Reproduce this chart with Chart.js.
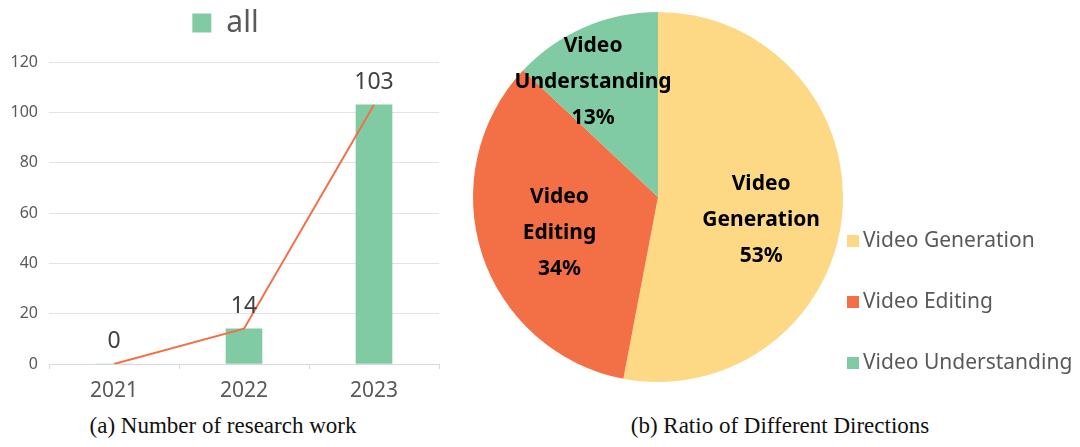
<!DOCTYPE html>
<html>
<head>
<meta charset="utf-8">
<script src="https://cdn.jsdelivr.net/npm/chart.js@4.4.1/dist/chart.umd.min.js"></script>
<style>
html, body { margin: 0; padding: 0; background: #fff; }
body { width: 1080px; height: 447px; position: relative; overflow: hidden; }
#barBox { position: absolute; left: 0; top: 0; width: 445px; height: 410px; }
#pieBox { position: absolute; left: 440px; top: 0; width: 640px; height: 394px; }
.caption { position: absolute; top: 413px; font-family: "Liberation Serif", "Times New Roman", serif; font-size: 23px; color: #111; text-align: center; white-space: nowrap; }
</style>
</head>
<body>
<div id="barBox"><canvas id="barChart"></canvas></div>
<div id="pieBox"><canvas id="pieChart"></canvas></div>
<div class="caption" style="left:0;width:446px;">(a) Number of research work</div>
<div class="caption" style="left:580px;width:400px;">(b) Ratio of Different Directions</div>

<script>
// ----------- data ----------------- //
const years = ["2021", "2022", "2023"];
const workCounts = [0, 14, 103];
const yTickMax = 120;
const yTickStep = 20;

const directions = ["Video Generation", "Video Editing", "Video Understanding"];
const directionShares = [53, 34, 13];

const green = "#80cba4";
const orange = "#f37046";
const pieColors = ["#fdd885", "#f37046", "#80cba4"];
const grayText = "#595959";

// ----------- Chart 1: number of research work ----------------- //

// value above each point of the line
const valueLabels = {
    id: "valueLabels",
    afterDatasetsDraw(chart) {
        const ctx = chart.ctx;
        const meta = chart.getDatasetMeta(1);
        ctx.save();
        ctx.font = "23px 'Noto Sans'";
        ctx.fillStyle = "#404040";
        ctx.textAlign = "center";
        ctx.textBaseline = "alphabetic";
        meta.data.forEach((pt, i) => {
            ctx.fillText(String(chart.data.datasets[1].data[i]), pt.x, pt.y - 16);
        });
        ctx.restore();
    }
};

new Chart(document.getElementById("barChart"), {
    data: {
        labels: years,
        datasets: [{
            type: "bar",
            label: "all",
            data: workCounts,
            xAxisID: "x",
            yAxisID: "y",
            backgroundColor: green,
            barThickness: 36,
            order: 2
        }, {
            type: "line",
            label: "trend",
            data: workCounts,
            xAxisID: "x",
            yAxisID: "y",
            borderColor: orange,
            borderWidth: 2,
            pointRadius: 0,
            tension: 0,
            order: 1
        }]
    },
    options: {
        responsive: true,
        maintainAspectRatio: false,
        animation: false,
        layout: { padding: { top: 0, left: 12, right: 6 } },
        plugins: {
            legend: {
                labels: {
                    filter: item => item.datasetIndex === 0,
                    boxWidth: 19,
                    boxHeight: 19,
                    color: grayText,
                    font: { family: "'Noto Sans'", size: 30 },
                    padding: 8
                }
            },
            tooltip: { enabled: false }
        },
        scales: {
            x: {
                offset: true,
                grid: { offset: true, drawOnChartArea: false, tickLength: 5, color: "#d9d9d9" },
                border: { color: "#d9d9d9" },
                ticks: { color: grayText, font: { family: "'Noto Sans'", size: 21 }, padding: 9 },
                afterFit: s => { s.height = 46; }
            },
            y: {
                min: 0,
                max: yTickMax,
                ticks: { stepSize: yTickStep, color: grayText, font: { family: "'Noto Sans'", size: 16 }, padding: 11 },
                grid: { color: "#e3e3e3", drawTicks: false },
                border: { display: false },
                afterFit: s => { s.width = 37; }
            },
            // empty band between legend and plot
            gap: {
                type: "category",
                position: "top",
                grid: { display: false },
                border: { display: false },
                ticks: { display: false },
                afterFit: s => { s.height = 14; }
            }
        }
    },
    plugins: [valueLabels]
});

// ----------- Chart 2: ratio of directions ----------------- //

// name + percent written inside each slice
const sliceLabels = {
    id: "sliceLabels",
    afterDatasetsDraw(chart, args, opts) {
        const ctx = chart.ctx;
        const meta = chart.getDatasetMeta(0);
        const total = chart.data.datasets[0].data.reduce((a, b) => a + b, 0);
        ctx.save();
        ctx.font = "bold 21px 'Noto Sans'";
        ctx.fillStyle = "#000";
        ctx.textAlign = "center";
        ctx.textBaseline = "middle";
        meta.data.forEach((arc, i) => {
            const mid = (arc.startAngle + arc.endAngle) / 2;
            const r = arc.outerRadius * opts.radius[i];
            const cx = arc.x + Math.cos(mid) * r + opts.shiftX[i];
            const cy = arc.y + Math.sin(mid) * r + opts.shiftY[i];
            const pct = Math.round(chart.data.datasets[0].data[i] / total * 100) + "%";
            const lines = chart.data.labels[i].split(" ").concat(pct);
            const top = cy - (lines.length - 1) * opts.lineGap / 2;
            lines.forEach((t, k) => ctx.fillText(t, cx, top + k * opts.lineGap));
        });
        ctx.restore();
    }
};

// legend drawn at the right of the pie
const sideLegend = {
    id: "sideLegend",
    afterDraw(chart, args, opts) {
        const ctx = chart.ctx;
        const colors = chart.data.datasets[0].backgroundColor;
        ctx.save();
        ctx.font = "21px 'Noto Sans'";
        ctx.textBaseline = "middle";
        chart.data.labels.forEach((l, i) => {
            const y = opts.top + i * opts.gap;
            ctx.fillStyle = colors[i];
            ctx.fillRect(chart.chartArea.right + opts.offset, y - 6, 12, 12);
            ctx.fillStyle = grayText;
            ctx.fillText(l, chart.chartArea.right + opts.offset + 16, y);
        });
        ctx.restore();
    }
};

new Chart(document.getElementById("pieChart"), {
    type: "pie",
    data: {
        labels: directions,
        datasets: [{
            data: directionShares,
            backgroundColor: pieColors,
            borderWidth: 0
        }]
    },
    options: {
        responsive: true,
        maintainAspectRatio: false,
        animation: false,
        layout: { padding: { left: 33, right: 237, top: 12, bottom: 12 } },
        plugins: {
            legend: { display: false },
            tooltip: { enabled: false },
            sliceLabels: { radius: [0.56, 0.56, 0.72], shiftX: [0, 0, -12], shiftY: [13, 4, 7], lineGap: 36 },
            sideLegend: { top: 241, gap: 61, offset: 4 }
        }
    },
    plugins: [sliceLabels, sideLegend]
});
</script>
</body>
</html>
